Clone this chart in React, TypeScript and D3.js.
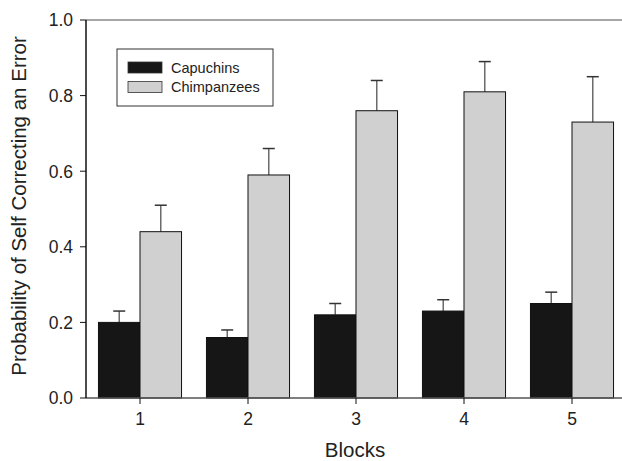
import { useMemo } from "react";
import * as d3 from "d3";

const WIDTH = 622;
const HEIGHT = 461;
const MARGIN = { top: 20, right: -4, bottom: 63, left: 86 };

// data
const blocks = ["1", "2", "3", "4", "5"];
const groups = ["Capuchins", "Chimpanzees"];
const capuchinMeans = [0.2, 0.16, 0.22, 0.23, 0.25];
const capuchinUpper = [0.23, 0.18, 0.25, 0.26, 0.28];
const chimpMeans = [0.44, 0.59, 0.76, 0.81, 0.73];
const chimpUpper = [0.51, 0.66, 0.84, 0.89, 0.85];
const yTicks = [0, 0.2, 0.4, 0.6, 0.8, 1.0];

const COLORS: Record<string, string> = {
  Capuchins: "#161616",
  Chimpanzees: "#d0d0d0",
};

const FONT = "Liberation Sans, Arial, Helvetica, sans-serif";

export default function App() {
  const boundsWidth = WIDTH - MARGIN.left - MARGIN.right;
  const boundsHeight = HEIGHT - MARGIN.top - MARGIN.bottom;

  const xScale = useMemo(
    () => d3.scaleBand().domain(blocks).range([0, boundsWidth]).padding(0),
    [boundsWidth]
  );
  const xSub = useMemo(
    () =>
      d3
        .scaleBand()
        .domain(groups)
        .range([0, xScale.bandwidth()])
        .paddingInner(0)
        .paddingOuter(0.3),
    [xScale]
  );
  const yScale = useMemo(
    () => d3.scaleLinear().domain([0, 1]).range([boundsHeight, 0]),
    [boundsHeight]
  );

  const rows = blocks.map((b, i) => [
    { block: b, group: "Capuchins", mean: capuchinMeans[i], upper: capuchinUpper[i] },
    { block: b, group: "Chimpanzees", mean: chimpMeans[i], upper: chimpUpper[i] },
  ]).flat();

  const bars = rows.map((d, i) => {
    const x = (xScale(d.block) ?? 0) + (xSub(d.group) ?? 0);
    const w = xSub.bandwidth();
    const cx = x + w / 2;
    return (
      <g key={i}>
        <line
          x1={cx}
          x2={cx}
          y1={yScale(d.mean)}
          y2={yScale(d.upper)}
          stroke="#6a6a6a"
          strokeWidth={1.5}
        />
        <line
          x1={cx - 6}
          x2={cx + 6}
          y1={yScale(d.upper)}
          y2={yScale(d.upper)}
          stroke="#333"
          strokeWidth={1.5}
        />
        <rect
          x={x}
          y={yScale(d.mean)}
          width={w}
          height={boundsHeight - yScale(d.mean)}
          fill={COLORS[d.group]}
          stroke="#111"
          strokeWidth={1}
        />
      </g>
    );
  });

  return (
    <div style={{ position: "absolute", left: 0, top: 0 }}>
      <svg width={WIDTH} height={HEIGHT} style={{ display: "block", background: "#fff" }}>
        <g transform={`translate(${MARGIN.left},${MARGIN.top})`}>
          {/* top frame line */}
          <line x1={0} x2={boundsWidth} y1={0} y2={0} stroke="#8a8a8a" strokeWidth={1.5} />
          {bars}
          {/* bottom axis */}
          <line x1={0} x2={boundsWidth} y1={boundsHeight} y2={boundsHeight} stroke="#555" strokeWidth={1.5} />
          {blocks.map((b) => {
            const cx = (xScale(b) ?? 0) + xScale.bandwidth() / 2;
            return (
              <g key={b}>
                <line x1={cx} x2={cx} y1={boundsHeight} y2={boundsHeight + 6} stroke="#111" strokeWidth={1} />
                <text
                  x={cx}
                  y={boundsHeight + 27}
                  textAnchor="middle"
                  fontSize={17.5}
                  fontFamily={FONT}
                  fill="#222"
                >
                  {b}
                </text>
              </g>
            );
          })}
          {/* left axis */}
          <line x1={0} x2={0} y1={0} y2={boundsHeight} stroke="#111" strokeWidth={1.5} />
          {yTicks.map((t) => (
            <g key={t}>
              <line x1={-6} x2={0} y1={yScale(t)} y2={yScale(t)} stroke="#111" strokeWidth={1} />
              <text
                x={-13}
                y={yScale(t)}
                dy="0.36em"
                textAnchor="end"
                fontSize={17.5}
                fontFamily={FONT}
                fill="#222"
              >
                {d3.format(".1f")(t)}
              </text>
            </g>
          ))}
          {/* legend */}
          <g transform="translate(31,29)">
            <rect x={0} y={0} width={156} height={57} fill="#fff" stroke="#333" strokeWidth={1} />
            {groups.map((g, i) => (
              <g key={g} transform={`translate(11,${13 + i * 19.5})`}>
                <rect width={34} height={11} fill={COLORS[g]} stroke="#333" strokeWidth={0.8} />
                <text x={43} y={10.5} fontSize={14.5} fontFamily={FONT} fill="#222">
                  {g}
                </text>
              </g>
            ))}
          </g>
        </g>
        <text
          x={355}
          y={457}
          textAnchor="middle"
          fontSize={20.5}
          fontFamily={FONT}
          fill="#222"
        >
          Blocks
        </text>
        <text
          transform={`translate(26,206) rotate(-90)`}
          textAnchor="middle"
          fontSize={20.5}
          fontFamily={FONT}
          fill="#222"
        >
          Probability of Self Correcting an Error
        </text>
      </svg>
    </div>
  );
}
